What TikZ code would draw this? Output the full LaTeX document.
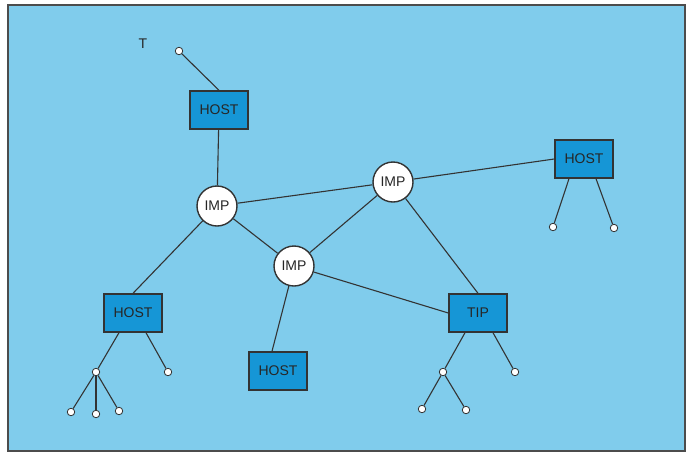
\documentclass[tikz,border=0pt]{standalone}
\usepackage{fontspec}
\setmainfont{Liberation Sans}
\begin{document}
\begin{tikzpicture}[x=1pt,y=-1pt,
  every node/.style={font=\fontsize{14}{16}\selectfont, text=black!85},
  hostbox/.style={draw=black!80, line width=1.4pt, fill=boxblue, minimum width=58pt, minimum height=38pt, inner sep=0pt},
  impnode/.style={circle, draw=black!80, line width=1.4pt, fill=white, minimum size=40pt, inner sep=0pt},
  term/.style={circle, draw=black!80, line width=0.8pt, fill=white, minimum size=7.5pt, inner sep=0pt},
  link/.style={draw=black!80, line width=1.1pt}]
\definecolor{bgblue}{RGB}{128,204,236}
\definecolor{boxblue}{RGB}{22,150,214}
\useasboundingbox (0,0) rectangle (691,456);
\fill[white] (0,0) rectangle (691,456);
\draw[fill=bgblue, draw=black!70, line width=1.5pt] (8,5) rectangle (685,451);

% nodes
\node[hostbox] (h1) at (219,110) {HOST};
\node[impnode] (i1) at (217,206) {IMP};
\node[impnode] (i2) at (393,182) {IMP};
\node[impnode] (i3) at (294,266) {IMP};
\node[hostbox] (h2) at (584,159) {HOST};
\node[hostbox] (h3) at (133,313) {HOST};
\node[hostbox] (h4) at (278,371) {HOST};
\node[hostbox] (tip) at (478,313) {TIP};

% terminals
\node[term] (t0) at (179,51) {};
\node (tl) at (143,44) {T};
\node[term] (r1) at (553,227) {};
\node[term] (r2) at (614,228) {};
\node[term] (l0) at (96,372) {};
\node[term] (l1) at (168,372) {};
\node[term] (l2) at (71,412) {};
\node[term] (l3) at (96,414) {};
\node[term] (l4) at (119,411) {};
\node[term] (p0) at (443,372) {};
\node[term] (p1) at (515,372) {};
\node[term] (p2) at (422,409) {};
\node[term] (p3) at (466,410) {};

% links
\draw[link] (t0) -- (h1.north);
\draw[link] (h1) -- (i1);
\draw[link] (i1) -- (i2);
\draw[link] (i1) -- (i3);
\draw[link] (i1) -- (h3.north);
\draw[link] (i2) -- (i3);
\draw[link] (i2) -- (h2.west);
\draw[link] (i2) -- (tip.north);
\draw[link] (i3) -- (tip.west);
\draw[link] (i3) -- (h4.north -| 272,0);

\draw[link] (h2.south -| 569,0) -- (r1);
\draw[link] (h2.south -| 596,0) -- (r2);
\draw[link] (h3.south -| 119,0) -- (l0);
\draw[link] (h3.south -| 146,0) -- (l1);
\draw[link] (l0) -- (l2);
\draw[link] (l0) -- (l3);
\draw[link] (l0) -- (l4);
\draw[link] (tip.south -| 465,0) -- (p0);
\draw[link] (tip.south -| 493,0) -- (p1);
\draw[link] (p0) -- (p2);
\draw[link] (p0) -- (p3);
\end{tikzpicture}
\end{document}
